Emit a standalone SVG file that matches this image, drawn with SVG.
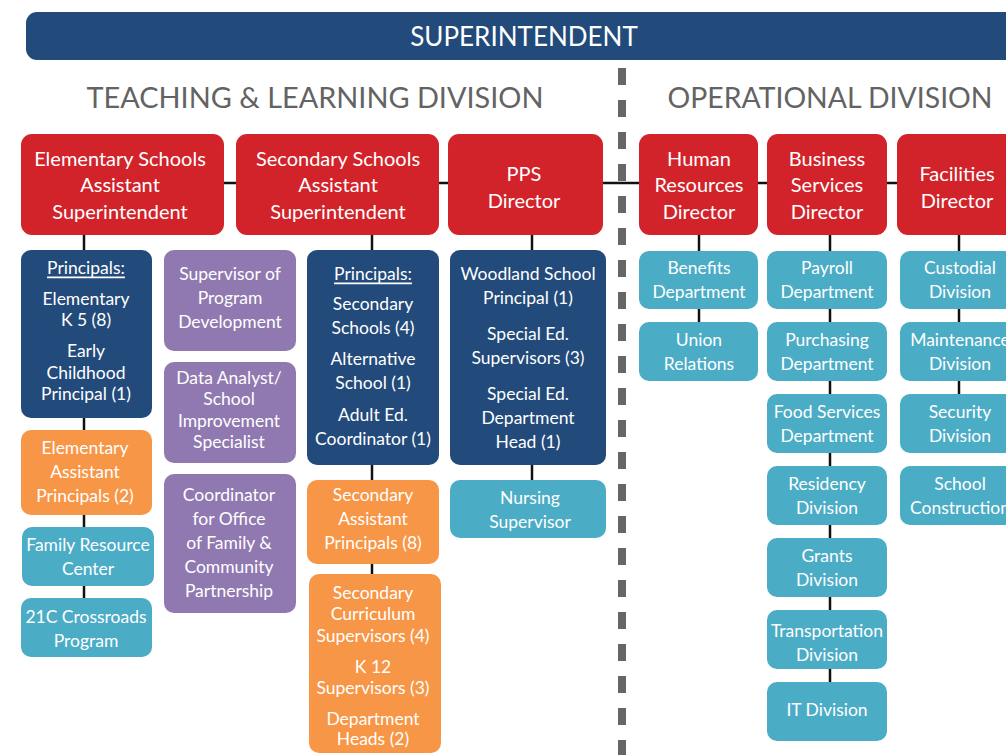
<svg xmlns="http://www.w3.org/2000/svg" width="1006" height="755" viewBox="0 0 1006 755">
<style>
text{font-family:Lato,"Liberation Sans",sans-serif;fill:#fff;text-anchor:middle;dominant-baseline:central}
.t{font-size:20px}
.s{font-size:17.5px}
.h{font-size:28px;fill:#636363}
.red{fill:#d2232a}
.navy{fill:#224a7b}
.org{fill:#f79646}
.teal{fill:#4bacc6}
.pur{fill:#9079b0}
.c{stroke:#111;stroke-width:2.5;fill:none}
</style>
<rect x="0" y="0" width="1006" height="755" fill="#fff"/>
<g id="superintendent">
<rect x="26" y="12" width="1000" height="48" rx="11" fill="#224a7b"/>
<text x="524" y="36" style="font-size:26px">SUPERINTENDENT</text>
</g>
<text class="h" x="315" y="97" textLength="457" lengthAdjust="spacingAndGlyphs">TEACHING &amp; LEARNING DIVISION</text>
<text class="h" x="830" y="97" textLength="325" lengthAdjust="spacingAndGlyphs">OPERATIONAL DIVISION</text>
<line x1="622" y1="68" x2="622" y2="755" stroke="#666" stroke-width="8" stroke-dasharray="17 15"/>
<g id="connectors" class="c">
<line x1="120" y1="183" x2="960" y2="183"/>
<line x1="84" y1="234" x2="84" y2="600"/>
<line x1="372" y1="234" x2="372" y2="576"/>
<line x1="532" y1="234" x2="532" y2="482"/>
<line x1="699" y1="234" x2="699" y2="324"/>
<line x1="830" y1="234" x2="830" y2="684"/>
<line x1="959" y1="234" x2="959" y2="396"/>
</g>
<g id="elem-asst-sup"><rect class="red" x="21" y="134" width="203" height="101" rx="11"/>
<text class="t" x="120" y="158">Elementary Schools</text><text class="t" x="120" y="184">Assistant</text><text class="t" x="120" y="211">Superintendent</text></g>
<g id="sec-asst-sup"><rect class="red" x="236" y="134" width="203" height="101" rx="11"/>
<text class="t" x="338" y="158">Secondary Schools</text><text class="t" x="338" y="184">Assistant</text><text class="t" x="338" y="211">Superintendent</text></g>
<g id="pps-director"><rect class="red" x="448" y="134" width="155" height="101" rx="11"/>
<text class="t" x="524" y="173">PPS</text><text class="t" x="524" y="200">Director</text></g>
<g id="hr-director"><rect class="red" x="639" y="134" width="119" height="101" rx="11"/>
<text class="t" x="699" y="158">Human</text><text class="t" x="699" y="184">Resources</text><text class="t" x="699" y="211">Director</text></g>
<g id="business-director"><rect class="red" x="767" y="134" width="120" height="101" rx="11"/>
<text class="t" x="827" y="158">Business</text><text class="t" x="827" y="184">Services</text><text class="t" x="827" y="211">Director</text></g>
<g id="facilities-director"><rect class="red" x="897" y="134" width="130" height="101" rx="11"/>
<text class="t" x="957" y="173">Facilities</text><text class="t" x="957" y="200">Director</text></g>

<g id="elem-principals"><rect class="navy" x="21" y="250" width="131" height="168" rx="10"/>
<text class="s" x="86" y="267" text-decoration="underline">Principals:</text>
<text class="s" x="86" y="298">Elementary</text><text class="s" x="86" y="319">K 5 (8)</text>
<text class="s" x="86" y="350">Early</text><text class="s" x="86" y="372">Childhood</text><text class="s" x="86" y="393">Principal (1)</text></g>
<g id="elem-asst-principals"><rect class="org" x="21" y="430" width="131" height="85" rx="10"/>
<text class="s" x="85" y="447">Elementary</text><text class="s" x="85" y="471">Assistant</text><text class="s" x="85" y="495">Principals (2)</text></g>
<g id="family-resource"><rect class="teal" x="22" y="527" width="132" height="59" rx="10"/>
<text class="s" x="88" y="544">Family Resource</text><text class="s" x="88" y="568">Center</text></g>
<g id="crossroads"><rect class="teal" x="21" y="598" width="131" height="59" rx="10"/>
<text class="s" x="86" y="616">21C Crossroads</text><text class="s" x="86" y="640">Program</text></g>

<g id="supervisor-program"><rect class="pur" x="164" y="250" width="132" height="101" rx="10"/>
<text class="s" x="230" y="273">Supervisor of</text><text class="s" x="230" y="297">Program</text><text class="s" x="230" y="321">Development</text></g>
<g id="data-analyst"><rect class="pur" x="164" y="362" width="132" height="101" rx="10"/>
<text class="s" x="229" y="377">Data Analyst/</text><text class="s" x="229" y="398">School</text><text class="s" x="229" y="420">Improvement</text><text class="s" x="229" y="441">Specialist</text></g>
<g id="coordinator-family"><rect class="pur" x="164" y="474" width="132" height="139" rx="10"/>
<text class="s" x="229" y="494">Coordinator</text><text class="s" x="229" y="518">for Office</text><text class="s" x="229" y="542">of Family &amp;</text><text class="s" x="229" y="566">Community</text><text class="s" x="229" y="590">Partnership</text></g>

<g id="sec-principals"><rect class="navy" x="307" y="250" width="132" height="215" rx="10"/>
<text class="s" x="373" y="273" text-decoration="underline">Principals:</text>
<text class="s" x="373" y="303">Secondary</text><text class="s" x="373" y="327">Schools (4)</text>
<text class="s" x="373" y="358">Alternative</text><text class="s" x="373" y="382">School (1)</text>
<text class="s" x="373" y="414">Adult Ed.</text><text class="s" x="373" y="438">Coordinator (1)</text></g>
<g id="sec-asst-principals"><rect class="org" x="307" y="480" width="132" height="84" rx="10"/>
<text class="s" x="373" y="494">Secondary</text><text class="s" x="373" y="518">Assistant</text><text class="s" x="373" y="542">Principals (8)</text></g>
<g id="sec-curriculum"><rect class="org" x="309" y="574" width="132" height="179" rx="10"/>
<text class="s" x="373" y="592">Secondary</text><text class="s" x="373" y="613">Curriculum</text><text class="s" x="373" y="635">Supervisors (4)</text>
<text class="s" x="373" y="666">K 12</text><text class="s" x="373" y="687">Supervisors (3)</text>
<text class="s" x="373" y="718">Department</text><text class="s" x="373" y="738">Heads (2)</text></g>

<g id="woodland"><rect class="navy" x="450" y="250" width="156" height="215" rx="10"/>
<text class="s" x="528" y="273">Woodland School</text><text class="s" x="528" y="297">Principal (1)</text>
<text class="s" x="528" y="333">Special Ed.</text><text class="s" x="528" y="357">Supervisors (3)</text>
<text class="s" x="528" y="393">Special Ed.</text><text class="s" x="528" y="417">Department</text><text class="s" x="528" y="441">Head (1)</text></g>
<g id="nursing"><rect class="teal" x="450" y="480" width="156" height="58" rx="10"/>
<text class="s" x="530" y="497">Nursing</text><text class="s" x="530" y="521">Supervisor</text></g>

<g id="benefits"><rect class="teal" x="639" y="251" width="119" height="58" rx="10"/>
<text class="s" x="699" y="267">Benefits</text><text class="s" x="699" y="291">Department</text></g>
<g id="union"><rect class="teal" x="639" y="322" width="119" height="59" rx="10"/>
<text class="s" x="699" y="339">Union</text><text class="s" x="699" y="363">Relations</text></g>

<g id="payroll"><rect class="teal" x="767" y="251" width="120" height="58" rx="10"/>
<text class="s" x="827" y="267">Payroll</text><text class="s" x="827" y="291">Department</text></g>
<g id="purchasing"><rect class="teal" x="767" y="322" width="120" height="59" rx="10"/>
<text class="s" x="827" y="339">Purchasing</text><text class="s" x="827" y="363">Department</text></g>
<g id="food-services"><rect class="teal" x="767" y="394" width="120" height="59" rx="10"/>
<text class="s" x="827" y="411">Food Services</text><text class="s" x="827" y="435">Department</text></g>
<g id="residency"><rect class="teal" x="767" y="466" width="120" height="59" rx="10"/>
<text class="s" x="827" y="483">Residency</text><text class="s" x="827" y="507">Division</text></g>
<g id="grants"><rect class="teal" x="767" y="538" width="120" height="59" rx="10"/>
<text class="s" x="827" y="555">Grants</text><text class="s" x="827" y="579">Division</text></g>
<g id="transportation"><rect class="teal" x="767" y="610" width="120" height="59" rx="10"/>
<text class="s" x="827" y="630">Transportation</text><text class="s" x="827" y="654">Division</text></g>
<g id="it"><rect class="teal" x="767" y="682" width="120" height="59" rx="10"/>
<text class="s" x="827" y="709">IT Division</text></g>

<g id="custodial"><rect class="teal" x="900" y="251" width="120" height="58" rx="10"/>
<text class="s" x="960" y="267">Custodial</text><text class="s" x="960" y="291">Division</text></g>
<g id="maintenance"><rect class="teal" x="900" y="322" width="120" height="59" rx="10"/>
<text class="s" x="960" y="339">Maintenance</text><text class="s" x="960" y="363">Division</text></g>
<g id="security"><rect class="teal" x="900" y="394" width="120" height="59" rx="10"/>
<text class="s" x="960" y="411">Security</text><text class="s" x="960" y="435">Division</text></g>
<g id="construction"><rect class="teal" x="900" y="466" width="120" height="59" rx="10"/>
<text class="s" x="960" y="483">School</text><text class="s" x="960" y="507">Construction</text></g>
</svg>
